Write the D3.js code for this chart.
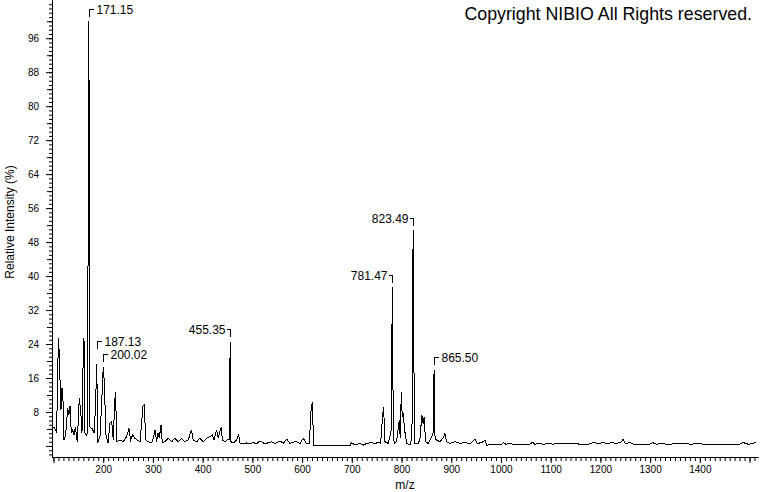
<!DOCTYPE html>
<html>
<head>
<meta charset="utf-8">
<script src="https://cdn.jsdelivr.net/npm/d3@7"></script>
<style>
  body { margin: 0; background: #fff; }
  svg { display: block; font-family: "Liberation Sans", Arial, sans-serif; }
</style>
</head>
<body>
<script>
// [m/z, relative intensity %], split by mass range
var lowMass = [
  [99.7,4.5],[103.0,4.1],[106.4,3.0],[108.4,18.3],[110.4,25.3],[113.1,15.5],[115.1,8.5],[117.1,13.6],
  [119.1,10.8],[121.1,1.4],[124.5,2.6],[128.5,8.9],[131.2,7.4],[133.2,9.4],[135.9,3.0],[138.6,3.8],
  [141.2,2.6],[143.9,4.5],[147.9,1.0],[151.9,11.2],[154.6,8.5],[157.3,3.0],[159.3,17.9],[161.3,25.3],
  [163.4,3.0],[166.0,2.6],[168.0,3.0],[169.8,52],[171.15,100],[172.1,54],[172.9,4.5],[177.4,4.1],
  [182.1,3.0],[184.8,10.8],[187.13,19.4],[188.8,0.7],[193.5,2.2],[196.9,10.0],[200.02,18.7],[202.2,14.9],
  [205.6,2.6],[209.6,0.7],[213.6,5.4],[217.0,5.8],[220.3,1.4],[223.0,10.4],[225.0,12.7],[227.0,1.0],
  [233.7,1.4],[240.4,1.0],[247.1,2.2],[251.8,4.1],[255.2,1.4],[259.2,2.6],[263.9,1.8],[268.6,1.4],
  [274.0,1.0],[277.3,5.4],[280.0,9.4],[282.7,9.6],[285.4,1.4],[290.7,1.0],[297.4,0.7],[300.8,1.8],
  [304.1,3.8],[307.5,1.0],[310.1,3.0],[312.8,1.8],[316.2,5.0],[318.9,0.7],[324.2,1.0],[330.9,1.8],
  [337.6,1.0],[344.3,1.8],[351.0,1.0],[357.7,1.8],[364.4,1.0],[371.1,1.4],[377.2,3.8],[381.2,1.4],
  [387.9,1.0],[394.6,1.8],[401.3,1.0],[408.0,1.8],[414.7,2.2],[419.4,2.6],[422.8,1.4],[428.1,3.8],
  [431.5,1.8],[434.8,3.4],[437.5,4.5],[439.5,1.4],[444.9,1.0],[449.6,1.4],[453.5,1.5],[454.4,12.5],
  [455.35,24.5],[456.2,12.0],[457.0,1.0],[461.7,0.7],[468.3,1.4],[472.4,2.6],[475.0,0.7],[481.7,0.5],
  [488.4,0.7],[495.1,0.5],[501.9,0.8],[508.6,0.5]
];
var midMass = [
  [515.3,1.2],[525.4,0.5],[538.8,1.0],[545.5,0.6],[555.5,1.2],[562.2,0.6],[569.0,1.6],[575.6,0.6],
  [582.4,0.9],[589.1,1.0],[595.8,0.6],[602.5,1.8],[609.2,0.5],[614.5,0.6],[617.9,8.1],[620.6,10.4],
  [623.2,0.1],[696.3,0.1],[699.6,0.8],[706.4,0.2],[716.4,0.6],[723.1,0.2],[729.8,0.6],[739.9,0.8],
  [746.6,0.5],[753.3,0.9],[758.0,0.6],[762.0,7.3],[764.0,9.1],[766.7,1.0],[773.4,0.6],[778.1,3.0],
  [779.5,4.0],[780.6,24.0],[781.47,37.4],[782.4,22.0],[783.5,2.0],[786.1,0.6],[790.1,1.0],[795.5,6.1],
  [797.5,1.8],[799.5,12.6],[801.5,6.9],[803.5,7.7],[806.2,3.8],[810.3,0.6],[817.0,0.2],[821.0,2.2],
  [822.4,37.0],[823.49,50.8],[824.5,38.0],[825.6,2.0],[827.0,0.6],[833.7,0.5],[837.1,1.8],[841.0,7.3],
  [843.5,5.3],[845.5,6.8],[848.5,1.0],[853.8,0.6],[860.5,2.2],[863.5,3.0],[864.6,12.5],[865.50,17.9],
  [866.4,8.0],[867.5,1.5],[870.6,1.4],[877.3,1.0],[882.7,1.8],[885.3,2.2],[887.3,3.0],[890.7,1.0],
  [897.4,0.6],[907.4,1.0],[917.5,0.6],[927.5,0.8],[937.6,0.5],[947.7,1.6],[952.3,0.5],[964.4,1.0],
  [967.8,1.4],[971.1,0.2]
];
var highMass = [
  [1001.3,0.4],[1004.6,0.8],[1010.0,0.4],[1018.0,0.6],[1023.4,0.4],[1058.2,0.4],[1063.6,0.9],[1068.3,0.4],
  [1075.0,0.6],[1085.0,0.4],[1095.1,0.6],[1105.2,0.4],[1111.9,0.6],[1121.9,0.5],[1128.6,0.6],[1138.7,0.5],
  [1148.7,0.6],[1158.8,0.4],[1175.5,0.4],[1185.6,0.8],[1195.6,0.6],[1205.7,0.8],[1215.8,0.5],[1222.5,0.8],
  [1232.5,0.6],[1242.6,1.0],[1245.9,1.6],[1250.6,0.5],[1259.3,0.8],[1266.0,0.4],[1299.5,0.4],[1304.9,0.8],
  [1313.0,0.4],[1323.0,0.6],[1333.0,0.4],[1373.3,0.6],[1380.0,0.4],[1400.1,0.6],[1406.8,0.4],[1480.5,0.4],
  [1487.2,0.8],[1497.3,0.4],[1507.3,0.6],[1514.0,1.0]
];

var peakMz = [171.15, 187.13, 200.02, 455.35, 781.47, 823.49, 865.50];
var labelOnLeft = [455.35, 781.47, 823.49];
var yLabelTicks = [8, 16, 24, 32, 40, 48, 56, 64, 72, 80, 88, 96];
var xLabelTicks = [200, 300, 400, 500, 600, 700, 800, 900, 1000, 1100, 1200, 1300, 1400];

var w = 760, h = 492;
var spectrum = lowMass.concat(midMass, highMass);

var x = d3.scaleLinear().domain([97, 1517]).range([52, 758]);
var y = d3.scaleLinear().domain([-2.6, 105]).range([457, 0]);

var svg = d3.select('body').append('svg')
  .attr('width', w)
  .attr('height', h);

function styleAxis(g) {
  g.attr('font-size', 12).attr('font-family', '"Liberation Sans", Arial, sans-serif');
  g.selectAll('text').attr('fill', '#000');
  g.selectAll('line, path').attr('stroke', '#000');
}

// y axis: minor every 1, medium every 4, labelled every 8
var yg = svg.append('g').attr('transform', 'translate(52,0)');
yg.append('g').call(d3.axisLeft(y).tickValues(d3.range(-2, 105, 1)).tickSize(3).tickSizeOuter(0).tickFormat(''));
yg.append('g').call(d3.axisLeft(y).tickValues(d3.range(4, 101, 8)).tickSize(5).tickSizeOuter(0).tickFormat(''));
yg.append('g').call(d3.axisLeft(y).tickValues([0].concat(yLabelTicks)).tickSize(6).tickSizeOuter(0)
  .tickPadding(7).tickFormat(d => d === 0 ? '' : d));
styleAxis(yg);

// x axis: minor every 10, labelled every 100
var xg = svg.append('g').attr('transform', 'translate(0,457)');
xg.append('g').call(d3.axisBottom(x).tickValues(d3.range(100, 1511, 10)).tickSize(4).tickSizeOuter(0).tickFormat(''));
xg.append('g').call(d3.axisBottom(x).tickValues([100].concat(xLabelTicks, [1500])).tickSize(6).tickSizeOuter(0)
  .tickPadding(3).tickFormat(d => xLabelTicks.indexOf(d) >= 0 ? d : ''));
styleAxis(xg);

svg.append('text')
  .attr('transform', 'translate(14,222) rotate(-90)')
  .attr('text-anchor', 'middle')
  .attr('font-size', 12)
  .text('Relative Intensity (%)');

svg.append('text')
  .attr('x', 405)
  .attr('y', 489)
  .attr('text-anchor', 'middle')
  .attr('font-size', 12)
  .text('m/z');

svg.append('text')
  .attr('x', 752)
  .attr('y', 20)
  .attr('text-anchor', 'end')
  .attr('font-size', 17.8)
  .text('Copyright NIBIO All Rights reserved.');

// spectrum trace
svg.append('path')
  .datum(spectrum)
  .attr('fill', 'none')
  .attr('stroke', '#000')
  .attr('stroke-width', 1)
  .attr('shape-rendering', 'crispEdges')
  .attr('d', d3.line().x(d => x(d[0])).y(d => y(d[1])));

// peak labels with bracket leaders; placed from high m/z down, pushed up on overlap
var placed = [];
peakMz.slice().sort((a, b) => b - a).forEach(function(mz) {
  var pt = spectrum.find(d => d[0] === mz);
  var px = Math.round(x(mz)) + 0.5;
  var by = Math.round(y(pt[1]) - 12.5) + 0.5;
  var left = labelOnLeft.indexOf(mz) >= 0;

  var g = svg.append('g');
  var t = g.append('text')
    .attr('font-size', 12)
    .attr('dy', '0.35em')
    .attr('text-anchor', left ? 'end' : 'start')
    .attr('x', left ? px - 5 : px + 7)
    .text(mz.toFixed(2));
  var tw = t.node().getComputedTextLength();
  var x0 = left ? px - 5 - tw : px + 7;

  var moved = true;
  while (moved) {
    moved = false;
    placed.forEach(function(b) {
      if (x0 < b.x1 && x0 + tw > b.x0 && by - 6 < b.y1 && by + 6 > b.y0) {
        by = b.y0 - 7;
        moved = true;
      }
    });
  }
  placed.push({ x0: x0, x1: x0 + tw, y0: by - 6, y1: by + 6 });

  t.attr('y', by);
  g.append('path')
    .attr('fill', 'none')
    .attr('stroke', '#000')
    .attr('shape-rendering', 'crispEdges')
    .attr('d', 'M' + (left ? px - 4 : px + 4) + ',' + by + 'H' + px + 'V' + (by + 7));
});
</script>
</body>
</html>
